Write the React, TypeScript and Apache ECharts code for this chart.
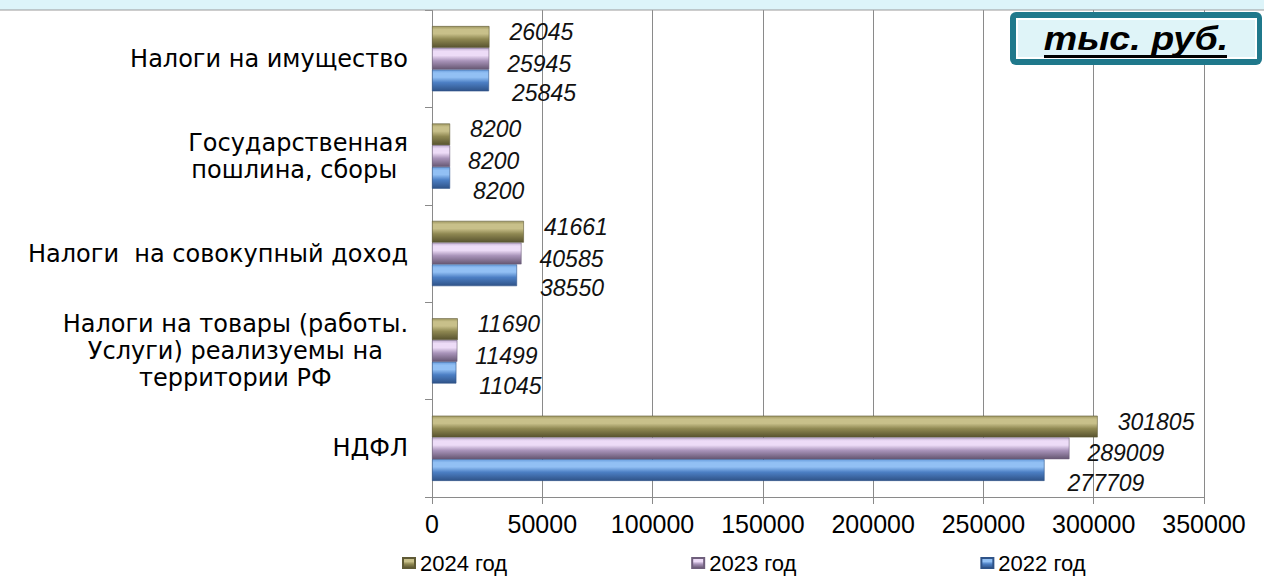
import React, { useEffect, useRef } from "react";
import * as echarts from "echarts";

const categories = [
  "НДФЛ",
  "Налоги на товары (работы.\nУслуги) реализуемы на\nтерритории РФ",
  "Налоги  на совокупный доход",
  "Государственная\nпошлина, сборы ",
  "Налоги на имущество",
];
const seriesNames = ["2024 год", "2023 год", "2022 год"];
const values2024 = [301805, 11690, 41661, 8200, 26045];
const values2023 = [289009, 11499, 40585, 8200, 25945];
const values2022 = [277709, 11045, 38550, 8200, 25845];
const xTicks = { min: 0, max: 350000, interval: 50000 };
const unitLabel = "тыс. руб.";

const FONT = "'Liberation Sans', Arial, sans-serif";
const WIDE = "'DejaVu Sans', 'Liberation Sans', sans-serif";

function grad(c0: string, c1: string, c2: string, c3: string) {
  return new echarts.graphic.LinearGradient(0, 0, 0, 1, [
    { offset: 0, color: c1 },
    { offset: 0.15, color: c0 },
    { offset: 0.35, color: c0 },
    { offset: 0.6, color: c2 },
    { offset: 1, color: c3 },
  ]);
}

const olive = grad("#c8c08a", "#9f9861", "#8f8852", "#58532f");
const purple = grad("#eddcf7", "#c3b0d3", "#a994ba", "#665772");
const blue = grad("#92c0f4", "#6a9ede", "#4c7fc4", "#2f5388");

export default function App() {
  const ref = useRef<HTMLDivElement>(null);
  useEffect(() => {
    if (!ref.current) return;
    const chart = echarts.init(ref.current, undefined, { renderer: "svg" });
    const label = (off: [number, number]) => ({
      show: true,
      position: "right" as const,
      distance: 18,
      offset: off,
      fontFamily: FONT,
      fontStyle: "italic" as const,
      fontSize: 23,
      color: "#111",
    });
    const mk = (name: string, data: number[], color: any, border: string, off: [number, number]) => ({
      name,
      type: "bar" as const,
      data,
      barCategoryGap: "33%",
      barGap: "0%",
      itemStyle: { color, borderColor: border, borderWidth: 0.6 },
      label: label(off),
    });
    chart.setOption({
      animation: false,
      backgroundColor: "#ffffff",
      grid: { left: 432, right: 60, top: 10, bottom: 90, containLabel: false },
      legend: {
        data: seriesNames,
        left: 397,
        top: 547,
        itemWidth: 12,
        itemHeight: 10,
        itemGap: 184,
        icon: "rect",
        textStyle: { fontFamily: FONT, fontSize: 22, color: "#000", padding: [2, 0, 0, 0] },
      },
      xAxis: {
        type: "value",
        min: xTicks.min,
        max: xTicks.max,
        interval: xTicks.interval,
        axisLine: { show: true, lineStyle: { color: "#8a8a8a", width: 1 } },
        axisTick: { show: true, length: 7, lineStyle: { color: "#8a8a8a" } },
        splitLine: { show: true, lineStyle: { color: "#8a8a8a", width: 1 } },
        axisLabel: {
          fontFamily: FONT,
          fontSize: 25,
          color: "#000",
          margin: 14,
          formatter: (v: number) => String(v),
        },
      },
      yAxis: {
        type: "category",
        data: categories,
        axisLine: { show: true, lineStyle: { color: "#8a8a8a", width: 1 } },
        axisTick: { show: true, length: 7, lineStyle: { color: "#8a8a8a" } },
        splitLine: { show: false },
        axisLabel: {
          margin: 24,
          formatter: (v: string) => `{c|${v}}`,
          rich: {
            c: { align: "center", fontFamily: WIDE, fontSize: 24, lineHeight: 27, color: "#000" },
          },
        },
      },
      graphic: [
        { type: "rect", left: 0, top: 0, shape: { width: 1264, height: 10 }, style: { fill: "#ddf4f9" }, z: 100 },
        { type: "line", shape: { x1: 0, y1: 10, x2: 1264, y2: 10 }, style: { stroke: "#9a9a9a", lineWidth: 1 }, z: 100 },
        {
          type: "rect",
          shape: { x: 1010, y: 12, width: 252, height: 53, r: 6 },
          style: { fill: "#1f788b" },
          z: 100,
        },
        {
          type: "rect",
          shape: { x: 1017, y: 19, width: 239, height: 39 },
          style: { fill: "#dff4f8", stroke: "#ffffff", lineWidth: 2 },
          z: 101,
        },
        {
          type: "text",
          x: 1136,
          y: 38,
          scaleX: 1.14,
          style: {
            text: unitLabel,
            fontFamily: FONT,
            fontSize: 33,
            fontWeight: "bold",
            fontStyle: "italic",
            fill: "#000",
            align: "center",
            verticalAlign: "middle",
          },
          z: 102,
        },
        {
          type: "rect",
          shape: { x: 1044, y: 55, width: 183, height: 3 },
          style: { fill: "#000" },
          z: 102,
        },
      ],
      series: [
        mk(seriesNames[0], values2024, olive, "#5f5a35", [2, -5]),
        mk(seriesNames[1], values2023, purple, "#6f5f7c", [0, 5]),
        mk(seriesNames[2], values2022, blue, "#2f5388", [5, 13]),
      ],
    });
    return () => chart.dispose();
  }, []);
  return (
    <div
      ref={ref}
      style={{ position: "fixed", left: 0, top: 0, width: 1264, height: 587, background: "#fff" }}
    />
  );
}
